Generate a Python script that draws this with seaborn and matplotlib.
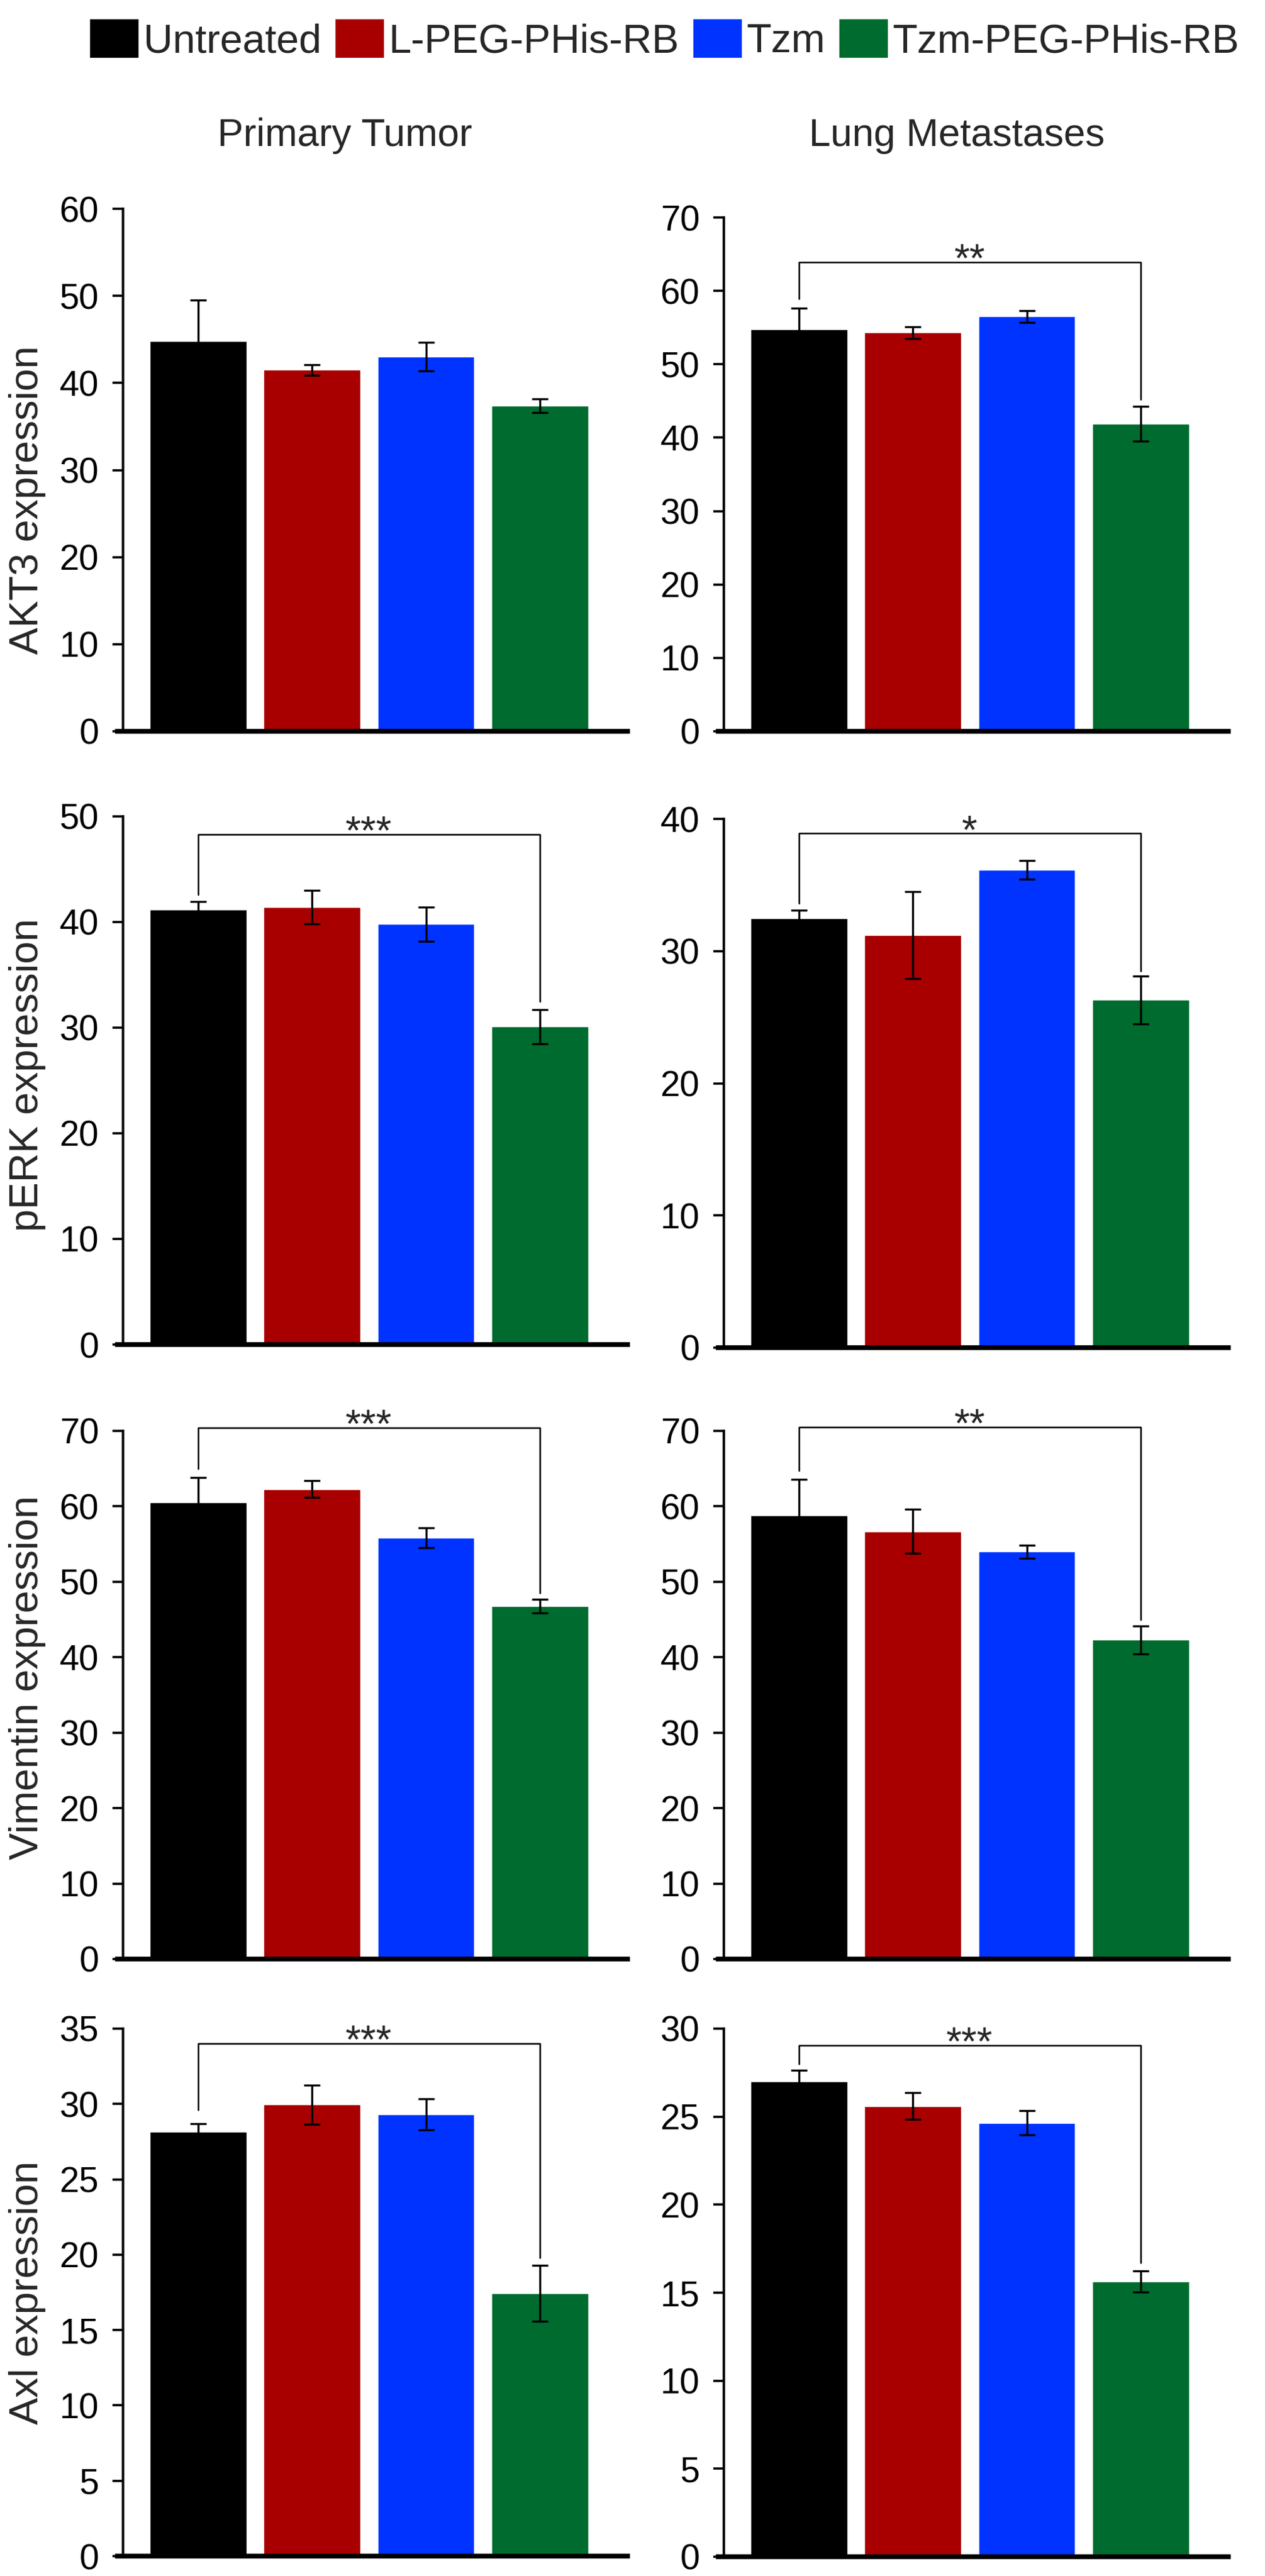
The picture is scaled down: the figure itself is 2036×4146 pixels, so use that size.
import matplotlib
matplotlib.use('Agg')
import matplotlib.pyplot as plt
import seaborn as sns
import pandas as pd
from matplotlib.patches import Patch

# groups and colours
groups = ['Untreated', 'L-PEG-PHis-RB', 'Tzm', 'Tzm-PEG-PHis-RB']
colors = ['#000000', '#A80000', '#0033FF', '#006B2E']
markers = ['AKT3', 'pERK', 'Vimentin', 'Axl']
sites = ['Primary Tumor', 'Lung Metastases']

# values (mean, error)
akt3_primary = [44.8, 41.5, 43.0, 37.4]
akt3_primary_err = [4.7, 0.6, 1.65, 0.8]
akt3_lung = [54.75, 54.3, 56.5, 41.9]
akt3_lung_err = [2.9, 0.8, 0.8, 2.4]
perk_primary = [41.2, 41.4, 39.8, 30.1]
perk_primary_err = [0.75, 1.6, 1.6, 1.6]
perk_lung = [32.5, 31.2, 36.15, 26.3]
perk_lung_err = [0.6, 3.3, 0.7, 1.8]
vim_primary = [60.5, 62.3, 55.85, 46.8]
vim_primary_err = [3.3, 1.15, 1.3, 0.9]
vim_lung = [58.8, 56.7, 54.0, 42.3]
vim_lung_err = [4.8, 2.95, 0.85, 1.85]
axl_primary = [28.16, 29.95, 29.3, 17.45]
axl_primary_err = [0.55, 1.3, 1.03, 1.85]
axl_lung = [27.0, 25.6, 24.65, 15.65]
axl_lung_err = [0.65, 0.75, 0.7, 0.6]

means = [[akt3_primary, akt3_lung], [perk_primary, perk_lung],
         [vim_primary, vim_lung], [axl_primary, axl_lung]]
errs = [[akt3_primary_err, akt3_lung_err], [perk_primary_err, perk_lung_err],
        [vim_primary_err, vim_lung_err], [axl_primary_err, axl_lung_err]]

# y axis range and tick step
y_max = [[60, 70], [50, 40], [70, 70], [35, 30]]
y_step = [[10, 10], [10, 10], [10, 10], [5, 5]]

# significance brackets Untreated vs Tzm-PEG-PHis-RB: (bar height, left leg end, right leg end, stars)
brackets = [[None, (63.9, 58.9, 45.2, '**')],
            [(48.3, 42.6, 32.5, '***'), (38.9, 33.6, 28.5, '*')],
            [(70.4, 65.0, 48.5, '***'), (70.5, 64.7, 45.0, '**')],
            [(34.0, 29.6, 19.8, '***'), (29.05, 28.0, 16.7, '***')]]

W, H = 2036, 4146
sns.set_style('white')
plt.rcParams['font.family'] = ['Liberation Sans', 'DejaVu Sans']
fig = plt.figure(figsize=(W / 100, H / 100), dpi=100)

# axes geometry in pixels (top of y range, baseline)
col_x = [198, 1165]
ax_w = 812
rows_px = [[(336, 1177), (350, 1177)],
           [(1314, 2164), (1318, 2169)],
           [(2303, 3153), (2303, 3153)],
           [(3265, 4114), (3265, 4115)]]
label_y = [0.443, 0.51, 0.533, 0.5]
tick_font = ['Liberation Sans Narrow', 'Liberation Sans']

for r in range(4):
    for c in range(2):
        top, bot = rows_px[r][c]
        ax = fig.add_axes([col_x[c] / W, 1 - bot / H, ax_w / W, (bot - top) / H])
        df = pd.DataFrame({'group': groups, 'value': means[r][c]})
        sns.barplot(data=df, x='group', y='value', hue='group', palette=colors,
                    width=0.85, errorbar=None, legend=False, ax=ax, saturation=1)
        ax.errorbar(range(4), means[r][c], yerr=errs[r][c], fmt='none', ecolor='black',
                    elinewidth=2.4, capsize=9.5, capthick=2.4, zorder=4)
        ax.set_xlim(-0.66, 3.77)
        ax.set_ylim(0, y_max[r][c])
        ticks = list(range(0, y_max[r][c] + 1, y_step[r][c]))
        ax.set_yticks(ticks, [str(t) for t in ticks], fontfamily=tick_font, fontsize=41)
        ax.set_xticks([])
        ax.set_xlabel('')
        ax.tick_params(axis='y', length=12, width=2.6, pad=16, colors='black', left=True)
        sns.despine(ax=ax)
        ax.spines['left'].set_linewidth(2.9)
        ax.spines['bottom'].set_linewidth(5.5)
        ax.spines['bottom'].set_bounds(-0.71, 3.77)
        ax.spines['left'].set_color('black')
        ax.spines['bottom'].set_color('black')
        if c == 0:
            ax.set_ylabel(markers[r] + ' expression', fontsize=47)
            ax.yaxis.set_label_coords(-0.153, label_y[r])
        else:
            ax.set_ylabel('')
        br = brackets[r][c]
        if br is not None:
            by, lend, rend, stars = br
            ax.plot([0, 0, 3, 3], [lend, by, by, rend], color='black', lw=1.8,
                    clip_on=False, zorder=5)
            ax.annotate(stars, xy=(1.5, by), xytext=(0, -11), textcoords='offset points',
                        ha='center', va='baseline', fontsize=46, annotation_clip=False)

# column titles
fig.text(555 / W, 1 - 219 / H, sites[0], ha='center', va='center', fontsize=45)
fig.text(1540 / W, 1 - 219 / H, sites[1], ha='center', va='center', fontsize=45)

# legend
handles = [Patch(facecolor=col, edgecolor='none', label=g) for g, col in zip(groups, colors)]
fig.legend(handles=handles, loc='center', bbox_to_anchor=(1070 / W, 1 - 64 / H), ncol=4,
           frameon=False, fontsize=47, handlelength=1.2, handleheight=1.1,
           handletextpad=0.12, columnspacing=0.34, borderaxespad=0, borderpad=0)

fig.savefig('out.png', dpi=100, facecolor='white')
